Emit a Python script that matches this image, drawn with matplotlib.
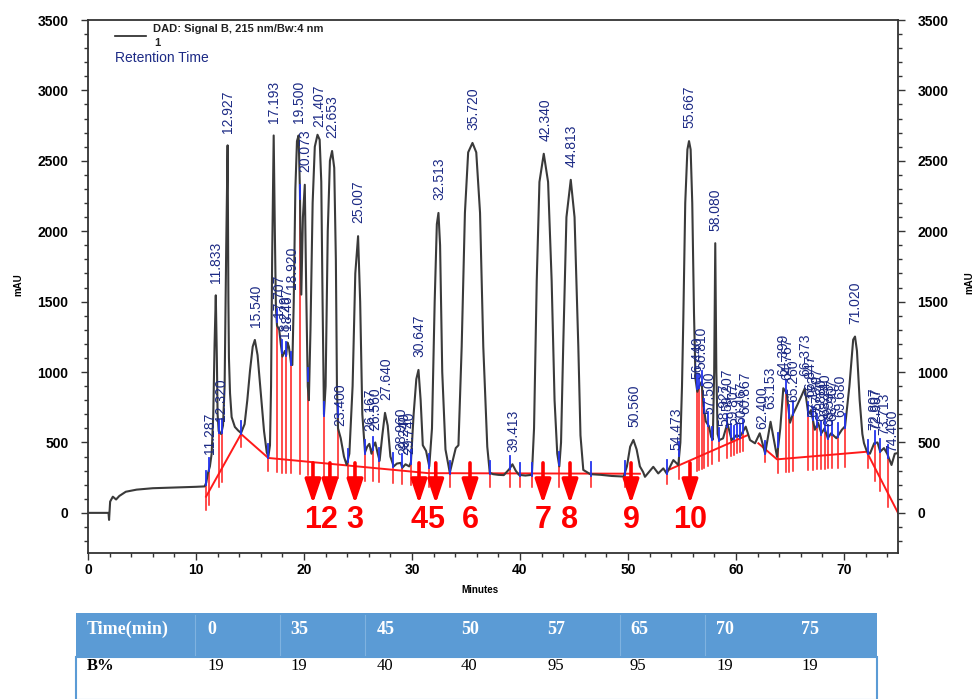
import numpy as np
import matplotlib
matplotlib.use("Agg")
import matplotlib.pyplot as plt
from matplotlib.patches import Rectangle
from matplotlib.lines import Line2D
from matplotlib.ticker import MultipleLocator

# ---- data (minutes, mAU) ----
trace_time = [0.0, 1.9, 1.95, 2.05, 2.3, 2.6, 2.9, 3.5, 4.5, 6.0, 8.0, 10.0, 10.8,
              10.95, 11.1, 11.287, 11.45, 11.6, 11.72, 11.833, 11.93, 12.0, 12.1, 12.32, 12.5,
              12.65, 12.8, 12.927, 13.0, 13.05, 13.15, 13.3, 13.6, 13.9, 14.17, 14.5, 14.75,
              15.0, 15.25, 15.45, 15.7, 16.0, 16.3, 16.55, 16.7,
              16.85, 16.95, 17.05, 17.193, 17.3, 17.4, 17.5, 17.707, 17.85, 18.0, 18.229, 18.35,
              18.467, 18.6, 18.8, 18.92, 19.05, 19.2, 19.35, 19.5, 19.62, 19.75, 19.9, 20.073,
              20.2, 20.35, 20.45, 20.6, 20.8, 21.0, 21.25, 21.45, 21.6, 21.72, 21.85, 22.0, 22.2,
              22.4, 22.6, 22.8, 22.95, 23.05, 23.15, 23.4, 23.7, 23.95,
              24.2, 24.5, 24.75, 25.007, 25.2, 25.4, 25.65, 25.85, 26.05, 26.25, 26.4, 26.6,
              26.8, 27.0, 27.25, 27.5, 27.75, 28.0, 28.3, 28.6, 28.96, 29.1, 29.4, 29.74, 29.9,
              30.15, 30.4, 30.6, 30.8, 31.0, 31.3, 31.6, 31.85, 32.1, 32.3, 32.45, 32.6, 32.8,
              33.1, 33.5,
              33.8, 34.05, 34.3, 34.6, 34.9, 35.2, 35.6, 35.95, 36.3, 36.6, 36.97, 37.2, 37.5,
              38.0, 38.5, 39.0, 39.3, 39.6, 39.9, 40.5, 41.1, 41.3, 41.55, 41.8, 42.2, 42.6,
              42.93, 43.2, 43.45, 43.64, 43.8, 44.0, 44.3, 44.7, 45.05, 45.4, 45.6, 45.86, 46.5,
              47.5, 48.5, 49.6, 49.9, 50.2, 50.5, 50.8, 51.1, 51.4, 51.57, 52.34, 52.8, 53.27,
              53.58, 54.2, 54.66,
              54.85, 55.0, 55.12, 55.3, 55.5, 55.65, 55.8, 55.95, 56.11, 56.25, 56.42, 56.6,
              56.81, 57.0, 57.2, 57.5, 57.7, 57.85, 57.98, 58.08, 58.18, 58.3, 58.45, 58.8, 59.2,
              59.6, 60.06, 60.37, 60.9, 61.3, 61.76, 62.2, 62.7, 63.2, 63.8, 64.1, 64.38, 64.7,
              65.0, 65.26, 65.55, 66.0, 66.373, 66.7, 66.95, 67.3, 67.6, 67.9, 68.2, 68.5, 68.8,
              69.3, 69.8, 70.1, 70.5, 70.85, 71.02, 71.2, 71.45, 71.7, 71.85, 72.1, 72.4, 72.8,
              73.1, 73.35, 73.7, 74.0, 74.4, 74.7, 75.0]
trace_mau = [0, 0, -50, 80, 115, 95, 120, 150, 165, 175, 180, 185, 188,
             215, 280, 330, 420, 700, 1200, 1545, 1100, 700, 580, 560, 620,
             900, 1900, 2610, 1500, 1100, 850, 680, 610, 585, 567, 630, 800,
             1010, 1180, 1228, 1120, 850, 580, 430, 400,
             480, 900, 1800, 2680, 2000, 1450, 1330, 1300, 1200, 1110, 1150, 1120,
             1210, 1180, 1060, 1050, 1500, 2300, 2640, 2680, 2300, 1550, 2100, 2330,
             1600, 900, 800, 1300, 2200, 2600, 2685, 2650, 2350, 1500, 700, 900, 2000,
             2500, 2570, 2450, 1800, 900, 600, 530, 400, 340,
             420, 900, 1700, 1965, 1500, 700, 430, 470, 490, 420, 470, 500,
             430, 370, 550, 710, 620, 400, 330, 350, 355, 320, 345, 330, 360,
             700, 950, 1015, 800, 480, 440, 330, 600, 1500, 2050, 2130, 1900, 1000,
             450, 285,
             380, 460, 480, 1180, 2130, 2560, 2627, 2560, 2130, 1180, 470, 285, 275,
             270, 268, 310, 345, 300, 270, 265, 270, 600, 1650, 2350, 2550, 2350,
             1650, 800, 420, 330, 500, 1180, 2100, 2365, 2100, 1180, 550, 305, 275,
             270, 262, 258, 330, 470, 518, 450, 330, 290, 256, 327, 280, 316,
             280, 375, 340,
             500, 900, 1370, 2200, 2580, 2640, 2580, 2200, 1420, 950, 860, 900,
             930, 760, 650, 615, 540, 520, 1000, 1915, 1000, 560, 517, 529, 636,
             517, 553, 541, 612, 517, 494, 565, 422, 647, 398, 600, 885, 850,
             640, 700, 745, 820, 885, 700, 730, 590, 640, 565, 600, 530, 565,
             530, 590, 615, 900, 1230, 1252, 1150, 800, 560, 495, 440, 420, 495,
             500, 435, 460, 420, 340, 420, 425]

# red integration baselines
base1_time = [10.93, 14.17, 16.69, 31.5, 51.1]
base1_mau = [115, 560, 390, 282, 278]
base2_time = [53.6, 61.05]
base2_mau = [300, 551]
base3_time = [62.07, 63.8, 72.1, 75.0]
base3_mau = [494, 380, 434, 0]

# integration events (peak start / end marks)
event_time = [10.93, 11.2, 12.13, 12.38, 14.17, 16.69, 17.47, 17.94, 18.33, 18.8, 19.63,
              20.34, 21.85, 23.12, 24.05, 25.65, 26.36, 26.97, 28.27, 29.05, 29.9, 31.6,
              33.5, 37.2, 39.1, 40.0, 41.1, 43.6, 46.6, 49.7, 53.64, 54.75, 56.36, 56.6,
              56.82, 57.06, 57.38, 57.8, 58.45, 59.14, 59.5, 59.81, 60.12, 60.37, 60.62,
              62.69, 63.92, 64.6, 64.94, 65.3, 66.7, 67.1, 67.47, 67.9, 68.24, 68.55, 68.86,
              69.47, 70.09, 72.25, 72.87, 73.33, 74.1]

peak_label_time = [11.287, 11.833, 12.320, 12.927, 15.540, 17.193, 17.707, 18.229, 18.467,
                   18.920, 19.500, 20.073, 21.407, 22.653, 23.400, 25.007, 26.167, 26.560,
                   27.640, 28.960, 29.240, 29.740, 30.647, 32.513, 35.720, 39.413, 42.340,
                   44.813, 50.560, 54.473, 55.667, 56.440, 56.810, 57.500, 58.080, 58.927,
                   59.207, 59.807, 60.467, 60.867, 62.400, 63.153, 64.399, 64.767, 65.260,
                   66.373, 66.847, 67.173, 67.507, 67.880, 68.240, 68.593, 68.907, 69.680,
                   71.020, 72.807, 72.987, 73.713, 74.460]

arrow_time = [20.83, 22.4, 24.72, 30.65, 32.2, 35.37, 42.13, 44.63, 50.28, 55.74]
arrow_number = ["1", "2", "3", "4", "5", "6", "7", "8", "9", "10"]

grad_time = ["0", "35", "45", "50", "57", "65", "70", "75"]
grad_b = ["19", "19", "40", "40", "95", "95", "19", "19"]

W, H = 976, 699
fig = plt.figure(figsize=(W / 100, H / 100), dpi=100)
ax = fig.add_axes([88 / W, 1 - 553 / H, 810 / W, 533 / H])

tt = np.array(trace_time)
vv = np.array(trace_mau)
ax.plot(tt, vv, color="#3a3a3a", lw=1.5, zorder=3)

bases = [(base1_time, base1_mau), (base2_time, base2_mau), (base3_time, base3_mau)]
for bt, bv in bases:
    ax.plot(bt, bv, color="#ff1a1a", lw=1.4, zorder=2)

for t in event_time:
    c = np.interp(t, tt, vv)
    b = None
    for bt, bv in bases:
        if bt[0] - 0.01 <= t <= bt[-1] + 0.01:
            b = np.interp(t, bt, bv)
    if b is None:
        b = c
    ax.plot([t, t], [b - 95, max(c, b)], color="#ff1a1a", lw=1.1, zorder=2)
    ax.plot([t, t], [c - 10, c + 85], color="#2233ee", lw=1.3, zorder=4)

for t in peak_label_time:
    win = (tt >= t - 0.15) & (tt <= t + 0.15)
    top = vv[win].max() if win.any() else np.interp(t, tt, vv)
    ax.text(t, top + 90, "%.3f" % t, rotation=90, ha="center", va="bottom",
            fontsize=10, color="#1c2a85", family="Liberation Sans", zorder=5)

for t, n in zip(arrow_time, arrow_number):
    ax.annotate("", xy=(t, 65), xytext=(t, 355),
                arrowprops=dict(arrowstyle="-|>,head_width=0.3,head_length=0.9",
                                color="#ff0000", lw=2.6, mutation_scale=16,
                                shrinkA=0, shrinkB=0), zorder=6)
    ax.text(t, -50, n, ha="center", va="center", fontsize=22, weight="bold",
            color="#ff0000", family=["Liberation Sans Narrow", "Liberation Sans"])

ax.set_xlim(0, 75)
ax.set_ylim(-285, 3500)
ax.xaxis.set_major_locator(MultipleLocator(10))
ax.xaxis.set_minor_locator(MultipleLocator(2))
ax.yaxis.set_minor_locator(MultipleLocator(100))
ax.set_yticks(np.arange(0, 3501, 500))
ax.tick_params(which="both", direction="out", right=True, labelright=True, top=False,
               color="#333333", width=1)
ax.tick_params(which="major", length=5, labelsize=10)
ax.tick_params(axis="y", which="major", pad=9)
ax.tick_params(axis="x", which="major", pad=2)
ax.tick_params(which="minor", length=3)
for lab in ax.get_xticklabels():
    lab.set_fontweight("bold")
    lab.set_family("Liberation Sans")
for tl in ax.yaxis.get_major_ticks():
    for lab in (tl.label1, tl.label2):
        lab.set_fontweight("bold")
        lab.set_family("Liberation Sans")
for sp in ax.spines.values():
    sp.set_color("#333333")
    sp.set_linewidth(1.3)

# legend block
fig.add_artist(Line2D([115 / W, 146 / W], [1 - 36 / H, 1 - 36 / H], color="#222222", lw=1.2))
fig.text(153 / W, 1 - 29 / H, "DAD: Signal B, 215 nm/Bw:4 nm", fontsize=8, weight="bold",
         va="center", family="Liberation Sans", color="#222222")
fig.text(154 / W, 1 - 43 / H, "1", fontsize=8, weight="bold", va="center",
         family="Liberation Sans", color="#222222")
fig.text(115 / W, 1 - 58 / H, "Retention Time", fontsize=10, va="center",
         family="Liberation Sans", color="#1c2a85")

fig.text(18 / W, 1 - 285 / H, "mAU", rotation=90, fontsize=7, weight="bold",
         ha="center", va="center", family="Liberation Sans")
fig.text(969 / W, 1 - 283 / H, "mAU", rotation=90, fontsize=7, weight="bold",
         ha="center", va="center", family="Liberation Sans")
fig.text(480 / W, 1 - 590 / H, "Minutes", fontsize=7, weight="bold",
         ha="center", va="center", family="Liberation Sans")

# gradient table
tab_left, tab_right = 76, 877
fig.add_artist(Rectangle((tab_left / W, 1 - 656 / H), (tab_right - tab_left) / W, 43 / H,
                         transform=fig.transFigure, facecolor="#5b9bd5", edgecolor="none"))
fig.add_artist(Rectangle((tab_left / W, 1 - 700 / H), (tab_right - tab_left) / W, 43 / H,
                         transform=fig.transFigure, facecolor="white", edgecolor="#5b9bd5",
                         lw=1.5))
col_left = [87, 207, 290, 377, 461, 547, 630, 716, 801]
for x in [195, 280, 365, 620, 705]:
    fig.add_artist(Line2D([x / W, x / W], [1 - 615 / H, 1 - 655 / H], color="#7fb2e0", lw=0.8))
serif = "Liberation Serif"
fig.text(col_left[0] / W, 1 - 629 / H, "Time(min)", fontsize=13, weight="bold",
         color="white", va="center", family=serif)
fig.text(col_left[0] / W, 1 - 666 / H, "B%", fontsize=12, weight="bold",
         color="black", va="center", family=serif)
for x, a, b in zip(col_left[1:], grad_time, grad_b):
    fig.text(x / W, 1 - 629 / H, a, fontsize=13, weight="bold", color="white",
             va="center", family=serif)
    fig.text(x / W, 1 - 666 / H, b, fontsize=12, color="black", va="center", family=serif)

fig.savefig("out.png", dpi=100)
